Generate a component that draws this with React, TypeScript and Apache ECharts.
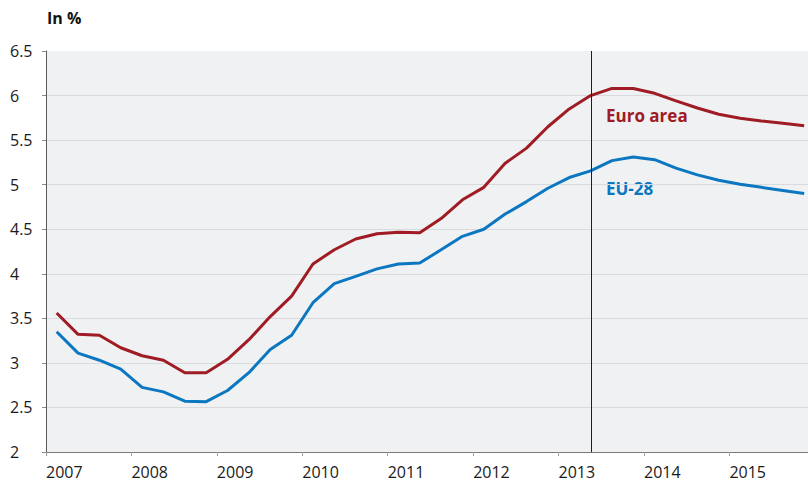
import React, { useEffect, useRef } from "react";
import * as echarts from "echarts";

// Quarterly observations, 2007Q1 … 2015Q4
const years = [2007, 2008, 2009, 2010, 2011, 2012, 2013, 2014, 2015];
const quarterLabels: string[] = years.flatMap((y) => [1, 2, 3, 4].map((q) => `${y}Q${q}`));

const euroArea = [
  3.56, 3.32, 3.31, 3.17, 3.08, 3.03, 2.89, 2.89,
  3.04, 3.26, 3.52, 3.75, 4.11, 4.27, 4.39, 4.45,
  4.465, 4.46, 4.62, 4.83, 4.97, 5.24, 5.41, 5.65,
  5.85, 6.0, 6.08, 6.08, 6.025, 5.94, 5.86, 5.79,
  5.745, 5.715, 5.69, 5.66,
];

const eu28 = [
  3.35, 3.11, 3.03, 2.93, 2.725, 2.675, 2.57, 2.565,
  2.69, 2.89, 3.15, 3.31, 3.675, 3.89, 3.97, 4.055,
  4.11, 4.12, 4.27, 4.42, 4.5, 4.67, 4.81, 4.96,
  5.08, 5.155, 5.27, 5.31, 5.28, 5.185, 5.11, 5.05,
  5.005, 4.97, 4.935, 4.9,
];

const forecastStart = "2013Q2";
const yTicks = [2, 2.5, 3, 3.5, 4, 4.5, 5, 5.5, 6, 6.5];

// position of a quarter on the year axis (middle of the quarter)
const quarterToYear = (label: string) => {
  const [y, q] = label.split("Q").map(Number);
  return y + (q - 0.5) / 4;
};

const RED = "#9f1c24";
const BLUE = "#0b77c1";
const FONT = "'Open Sans', 'Noto Sans', sans-serif";

export default function App() {
  const ref = useRef<HTMLDivElement>(null);

  useEffect(() => {
    if (!ref.current) return;
    const chart = echarts.init(ref.current, null, { renderer: "svg" });
    const toPairs = (vals: number[]) => vals.map((v, i) => [quarterToYear(quarterLabels[i]), v]);

    chart.setOption({
      animation: false,
      grid: {
        left: 46,
        right: 0,
        top: 51,
        bottom: 28,
        show: true,
        backgroundColor: "#f0f1f3",
        borderWidth: 0,
      },
      xAxis: {
        type: "value",
        min: years[0],
        max: 2015.92,
        interval: 1,
        axisLine: { show: true, lineStyle: { color: "#7a7a7a", width: 1 } },
        axisTick: { show: true, length: 4, lineStyle: { color: "#a0a0a0" } },
        splitLine: { show: false },
        axisLabel: {
          align: "left",
          margin: 13,
          lineHeight: 14,
          fontFamily: FONT,
          fontSize: 16,
          color: "#1a1a1a",
          showMaxLabel: false,
          formatter: (v: number) => (Number.isInteger(v) ? String(v) : ""),
        },
      },
      yAxis: {
        type: "value",
        min: yTicks[0],
        max: yTicks[yTicks.length - 1],
        interval: 0.5,
        axisLine: { show: true, lineStyle: { color: "#5a5a5a", width: 1 } },
        axisTick: { show: true, length: 4, lineStyle: { color: "#8a8a8a" } },
        splitLine: {
          show: true,
          showMaxLine: false,
          lineStyle: { color: "#d9dadd", width: 1 },
        },
        axisLabel: {
          align: "left",
          margin: 36,
          fontFamily: FONT,
          fontSize: 16,
          color: "#1a1a1a",
          padding: [0, 0, 3, 0],
          formatter: (v: number) => String(v),
        },
      },
      series: [
        {
          name: "Euro area",
          type: "line",
          data: toPairs(euroArea),
          symbol: "none",
          lineStyle: { color: RED, width: 3 },
          z: 3,
          markLine: {
            silent: true,
            symbol: "none",
            label: { show: false },
            lineStyle: { color: "#1e1e1e", width: 1, type: "solid" },
            data: [{ xAxis: quarterToYear(forecastStart) }],
          },
        },
        {
          name: "EU-28",
          type: "line",
          data: toPairs(eu28),
          symbol: "none",
          lineStyle: { color: BLUE, width: 3 },
          z: 3,
        },
      ],
      graphic: [
        {
          type: "text",
          left: 47,
          top: 10,
          style: { text: "In %", font: `bold 16px ${FONT}`, fill: "#111" },
        },
        {
          type: "text",
          left: 606,
          top: 107,
          style: { text: "Euro area", font: `bold 17px ${FONT}`, fill: RED },
        },
        {
          type: "text",
          left: 606,
          top: 180,
          style: { text: "EU-28", font: `bold 17px ${FONT}`, fill: BLUE },
        },
      ],
    });

    return () => chart.dispose();
  }, []);

  return (
    <div
      ref={ref}
      style={{ position: "fixed", left: 0, top: 0, width: 808, height: 480, background: "#fff" }}
    />
  );
}
